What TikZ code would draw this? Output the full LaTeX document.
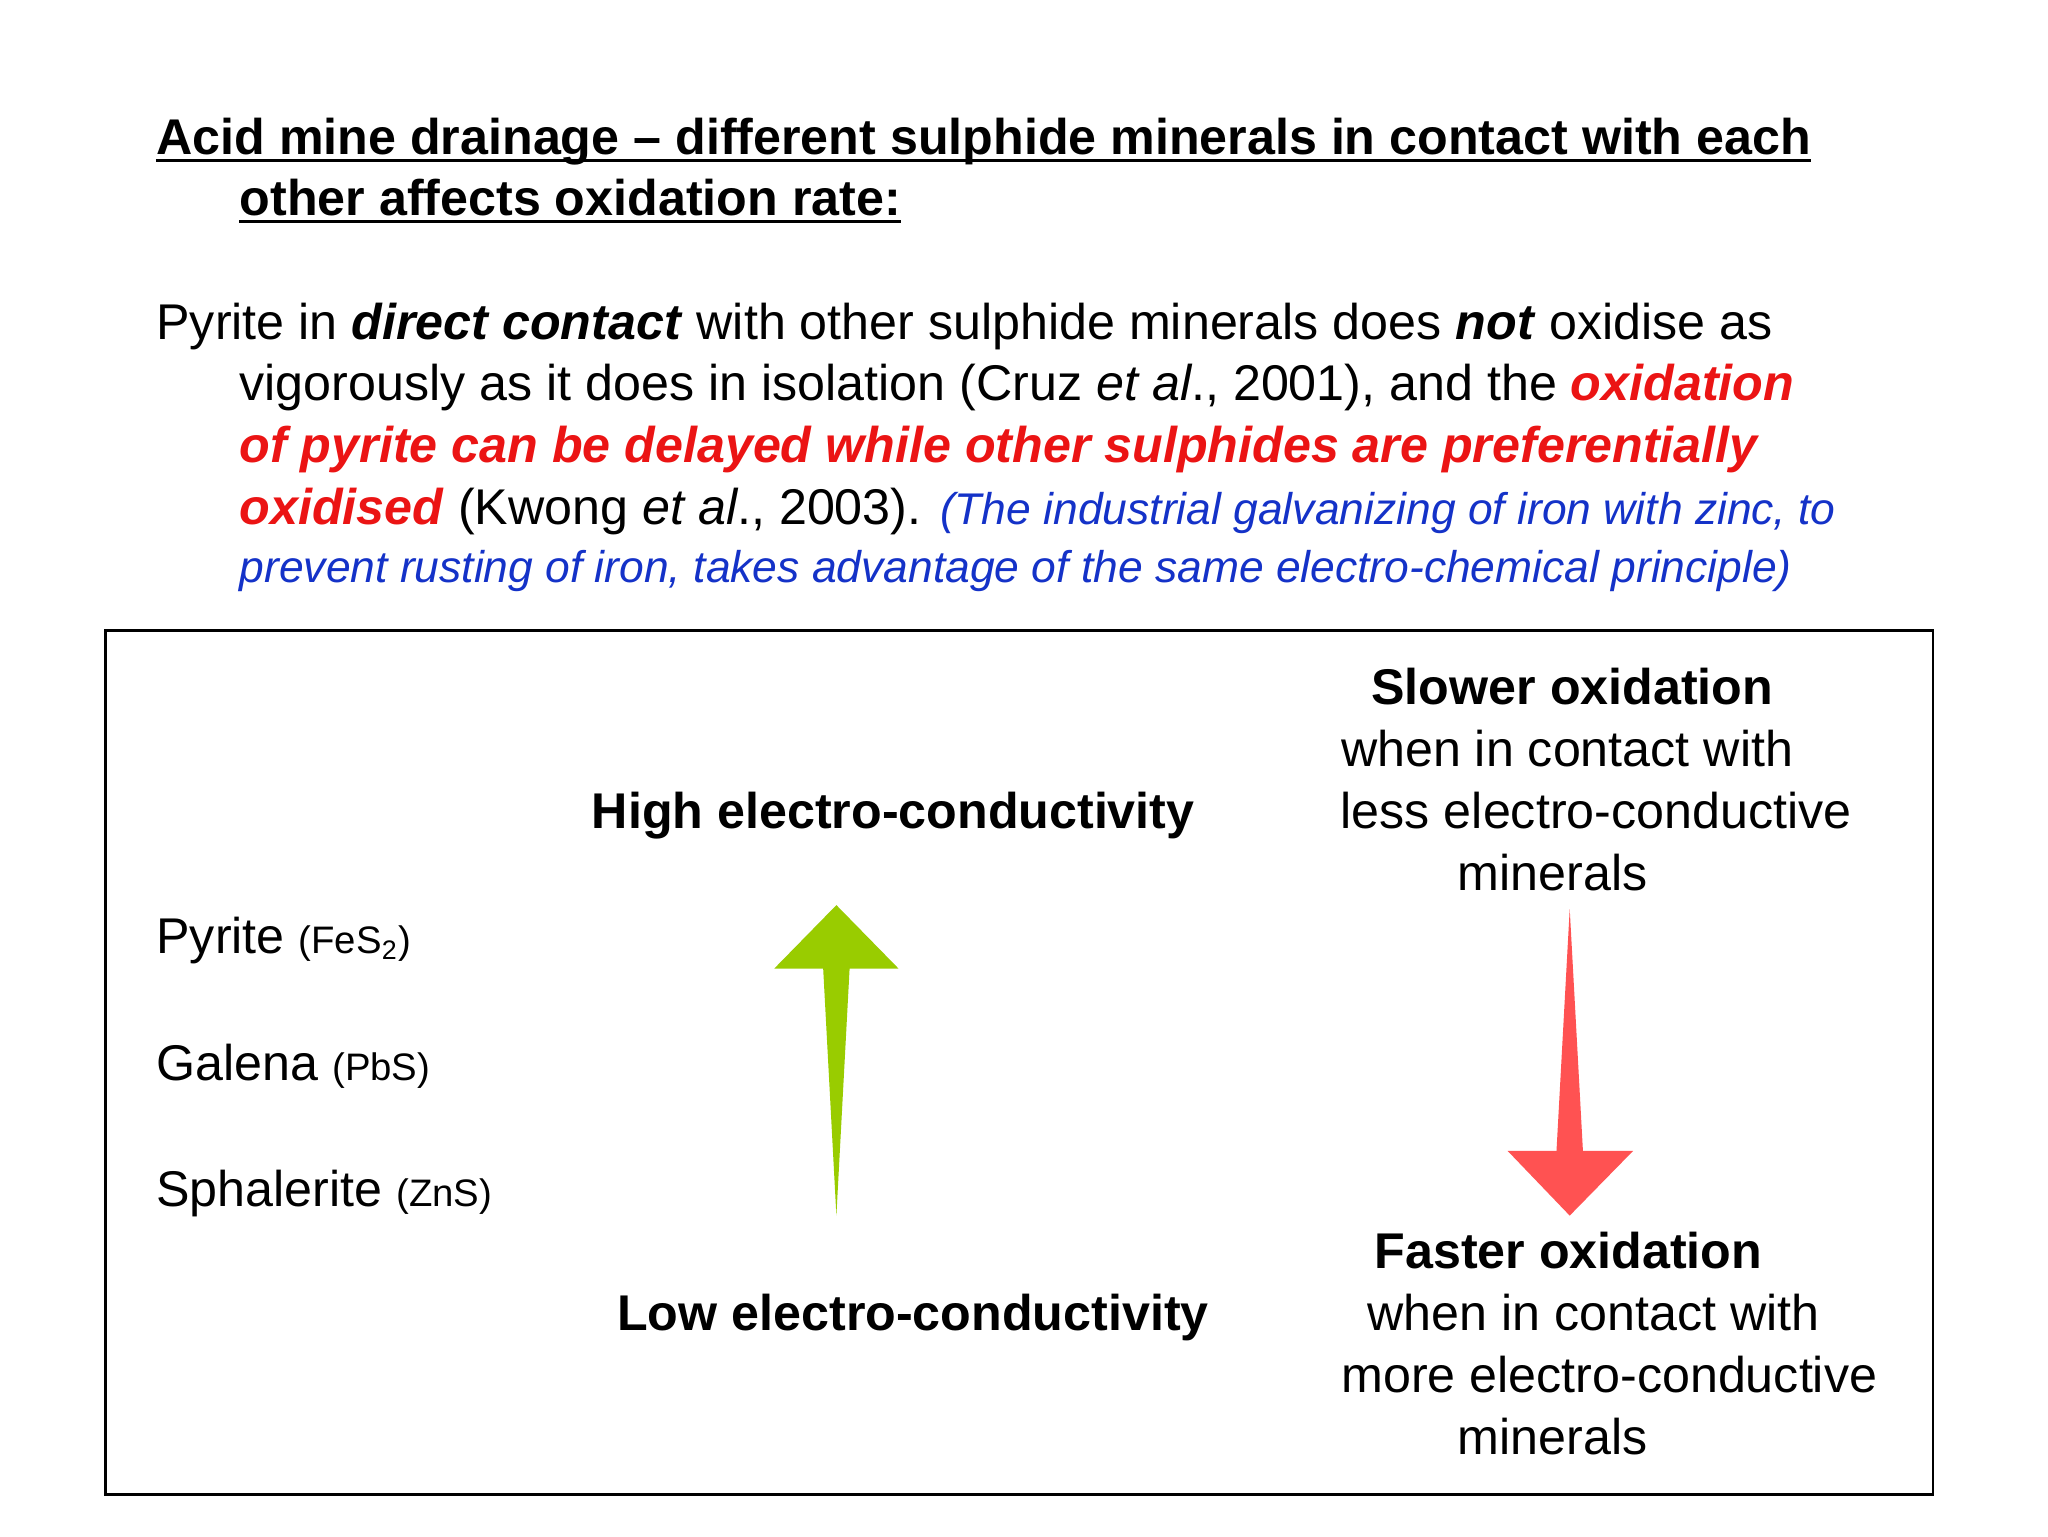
\documentclass[tikz,border=0pt]{standalone}
\usepackage{fontspec}
\setmainfont{Liberation Sans}
\definecolor{txtred}{RGB}{235,20,20}
\definecolor{txtblue}{RGB}{20,50,200}
\definecolor{arrgreen}{RGB}{153,204,0}
\definecolor{arrred}{RGB}{255,82,82}
\newcommand{\ulbox}[1]{\underline{\smash{#1}}}
\tikzset{
 ln/.style={anchor=base west,inner sep=0pt,font=\fontsize{19}{22}\selectfont},
 bx/.style={anchor=base,inner sep=0pt,font=\fontsize{19}{22}\selectfont}
}
\begin{document}
\begin{tikzpicture}[x=0.5pt,y=-0.5pt]
\useasboundingbox (0,0) rectangle (1550,1163);
\fill[white] (0,0) rectangle (1550,1163);
% title
\node[ln] (t1) at (118,117) {\textbf{Acid mine drainage – different sulphide minerals in contact with each}};
\node[ln] (t2) at (181,163) {\textbf{other affects oxidation rate:}};
\draw[line width=1pt] ([yshift=-2.2pt]t1.base west) -- ([yshift=-2.2pt]t1.base east);
\draw[line width=1pt] ([yshift=-2.2pt]t2.base west) -- ([yshift=-2.2pt]t2.base east);
% paragraph
\node[ln] (p1) at (118,257) {Pyrite in \textbf{\textit{direct contact}} with other sulphide minerals does \textbf{\textit{not}} oxidise as};
\node[ln] (p2) at (181,303) {vigorously as it does in isolation (Cruz \textit{et al}., 2001), and the \textcolor{txtred}{\textbf{\textit{oxidation}}}};
\node[ln] (p3) at (181,350) {\textcolor{txtred}{\textbf{\textit{of pyrite can be delayed while other sulphides are preferentially}}}};
\node[ln] (p4) at (181,397) {\textcolor{txtred}{\textbf{\textit{oxidised}}} (Kwong \textit{et al}., 2003). {\fontsize{16.8}{19}\selectfont\color{txtblue}\textit{(The industrial galvanizing of iron with zinc, to}}};
\node[ln,font=\fontsize{16.8}{19}\selectfont,text=txtblue] (p5) at (181,441) {\textit{prevent rusting of iron, takes advantage of the same electro-chemical principle)}};
% box
\draw[line width=1pt] (80,477) rectangle (1463,1131);
\node[bx] (s1) at (1190,533) {\textbf{Slower oxidation}};
\node[bx] (s2) at (1186,580) {when in contact with};
\node[bx] (s3) at (1208,627) {less electro-conductive};
\node[bx] (s4) at (1175,674) {minerals};
\node[bx] (hi) at (676,627) {\textbf{High electro-conductivity}};
\node[bx,anchor=base west] (py) at (118,722) {Pyrite {\fontsize{14.5}{16}\selectfont(FeS\textsubscript{2})}};
\node[bx,anchor=base west] (ga) at (118,818) {Galena {\fontsize{14.5}{16}\selectfont(PbS)}};
\node[bx,anchor=base west] (sp) at (118,913) {Sphalerite {\fontsize{14.5}{16}\selectfont(ZnS)}};
\node[bx] (lo) at (691,1007) {\textbf{Low electro-conductivity}};
\node[bx] (f1) at (1187,960) {\textbf{Faster oxidation}};
\node[bx] (f2) at (1206,1007) {when in contact with};
\node[bx] (f3) at (1218,1054) {more electro-conductive};
\node[bx] (f4) at (1175,1101) {minerals};
% arrows
\fill[arrgreen] (633,685) -- (680,733) -- (643,733) -- (633,920) -- (623,733) -- (586,733) -- cycle;
\fill[arrred] (1188,688) -- (1198,871) -- (1236,871) -- (1188,920) -- (1141,871) -- (1178,871) -- cycle;
\end{tikzpicture}
\end{document}
